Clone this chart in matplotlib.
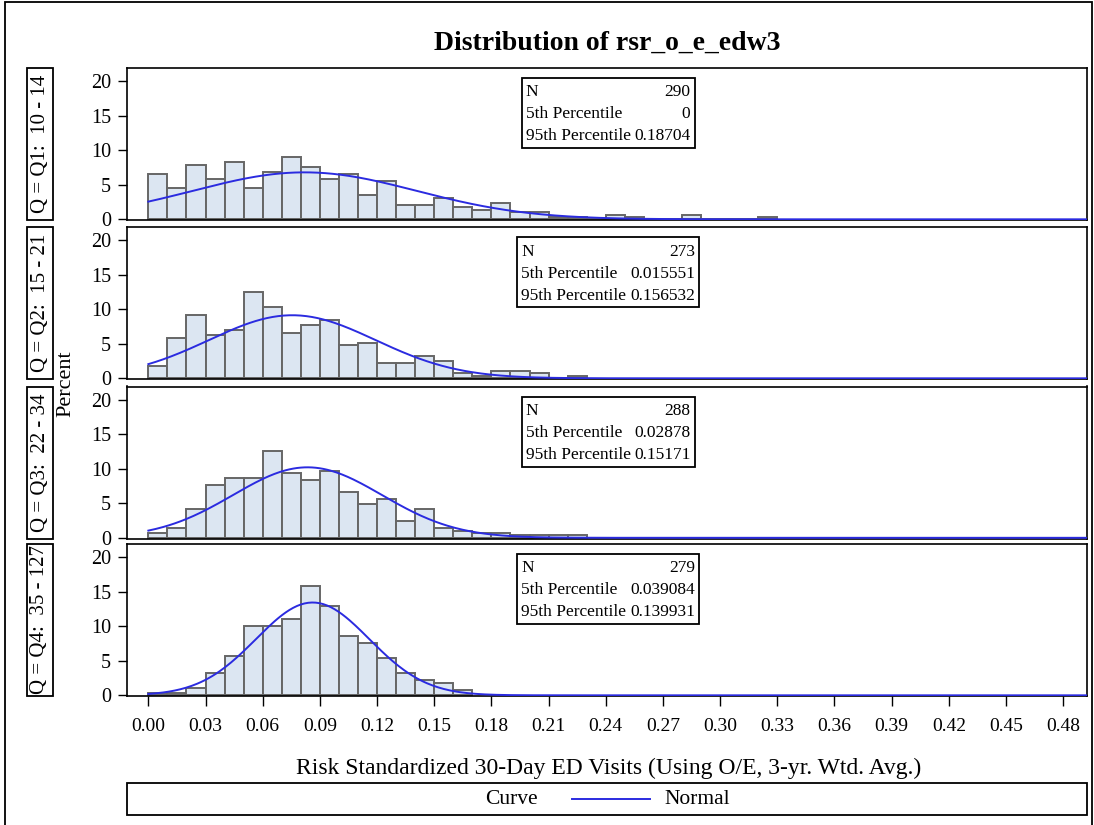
import numpy as np
import matplotlib.pyplot as plt
from matplotlib.patches import Rectangle
from matplotlib.lines import Line2D

plt.rcParams['font.family'] = ['Liberation Serif', 'DejaVu Serif']

W, H = 1094, 825

# histogram data: counts per 0.01-wide bin starting at 0.00
groups = ['Q = Q1:  10 - 14', 'Q = Q2:  15 - 21', 'Q = Q3:  22 - 34', 'Q = Q4:  35 - 127']
n_obs = [290, 273, 288, 279]
p5 = ['0', '0.015551', '0.02878', '0.039084']
p95 = ['0.18704', '0.156532', '0.15171', '0.139931']

counts_q1 = [19, 13, 23, 17, 24, 13, 20, 26, 22, 17, 19, 10, 16, 6, 6, 9, 5, 4, 7, 3, 3,
             1, 1, 0, 2, 1, 0, 0, 2, 0, 0, 0, 1]
counts_q2 = [5, 16, 25, 17, 19, 34, 28, 18, 21, 23, 13, 14, 6, 6, 9, 7, 2, 1, 3, 3, 2, 0, 1]
counts_q3 = [2, 4, 12, 22, 25, 25, 36, 27, 24, 28, 19, 14, 16, 7, 12, 4, 3, 2, 2, 1, 1, 1, 1]
counts_q4 = [1, 1, 3, 9, 16, 28, 28, 31, 44, 36, 24, 21, 15, 9, 6, 5, 2]
all_counts = [counts_q1, counts_q2, counts_q3, counts_q4]

# fitted normal curve parameters
curve_mean = [0.082, 0.0755, 0.0835, 0.0862]
curve_sd = [0.0587, 0.0437, 0.0391, 0.0297]

bin_width = 0.01
xticks = [0.00, 0.03, 0.06, 0.09, 0.12, 0.15, 0.18, 0.21, 0.24, 0.27, 0.30, 0.33,
          0.36, 0.39, 0.42, 0.45, 0.48]
yticks = [0, 5, 10, 15, 20]
xlim = (-0.0112, 0.4925)
ylim = (-0.1, 21.9)

bar_face = '#DCE6F2'
bar_edge = '#666666'
curve_color = '#2B2BE0'


def fx(px):
    return px / W


def fy(py):
    return 1 - py / H


fig = plt.figure(figsize=(W / 100, H / 100), dpi=100)

ax_left, ax_right = 127, 1087
panel_tops = [68, 227, 386.5, 544]
panel_h = 152

for i, counts in enumerate(all_counts):
    top = panel_tops[i]
    ax = fig.add_axes([fx(ax_left), fy(top + panel_h), fx(ax_right - ax_left), panel_h / H])
    edges = np.arange(len(counts)) * bin_width
    pct = 100.0 * np.array(counts) / n_obs[i]
    ax.bar(edges, pct, width=bin_width, align='edge', color=bar_face,
           edgecolor=bar_edge, linewidth=1.4, zorder=2)

    xs = np.linspace(0, xlim[1], 500)
    m, s = curve_mean[i], curve_sd[i]
    ys = 100 * bin_width * np.exp(-0.5 * ((xs - m) / s) ** 2) / (s * np.sqrt(2 * np.pi))
    ax.plot(xs, ys, color=curve_color, lw=1.4, zorder=3)

    ax.set_xlim(*xlim)
    ax.set_ylim(*ylim)
    ax.set_yticks(yticks)
    ax.tick_params(axis='y', direction='out', length=6.5, width=1.0, labelsize=14.5, pad=5)
    for sp in ax.spines.values():
        sp.set_linewidth(1.2)
    if i < 3:
        ax.set_xticks([])
    else:
        ax.set_xticks(xticks)
        ax.set_xticklabels(['%.2f' % t for t in xticks])
        ax.tick_params(axis='x', direction='out', length=7.5, width=1.0, labelsize=14, pad=8)

    # inset statistics box
    half = 86.5 if i in (0, 2) else 91
    bl, br = 608 - half, 608 + half
    bt = top + 10
    fig.add_artist(Rectangle((fx(bl), fy(bt + 70)), fx(br - bl), 70 / H,
                             transform=fig.transFigure, fill=False, lw=1.3, ec='black'))
    rows = [('N', str(n_obs[i])), ('5th Percentile', p5[i]), ('95th Percentile', p95[i])]
    for k, (lab, val) in enumerate(rows):
        yy = fy(bt + 14.5 + 22 * k)
        fig.text(fx(bl + 4), yy, lab, ha='left', va='center', fontsize=12.5)
        fig.text(fx(br - 4), yy, val, ha='right', va='center', fontsize=12.5)

    # row header box
    fig.add_artist(Rectangle((fx(27), fy(top + panel_h)), fx(26), panel_h / H,
                             transform=fig.transFigure, fill=False, lw=1.3, ec='black'))
    fig.text(fx(40), fy(top + panel_h / 2), groups[i], rotation=90, ha='center',
             va='center', fontsize=15)

fig.text(fx(607), fy(43), 'Distribution of rsr_o_e_edw3', ha='center', va='center',
         fontsize=20, fontweight='bold')
fig.text(fx(66), fy(384), 'Percent', rotation=90, ha='center', va='center', fontsize=16)
fig.text(fx(609), fy(768), 'Risk Standardized 30-Day ED Visits (Using O/E, 3-yr. Wtd. Avg.)',
         ha='center', va='center', fontsize=17)

# legend strip
fig.add_artist(Rectangle((fx(127), fy(815)), fx(960), 32 / H, transform=fig.transFigure,
                         fill=False, lw=1.3, ec='black'))
fig.text(fx(511), fy(799), 'Curve', ha='center', va='center', fontsize=15.5)
fig.add_artist(Line2D([fx(572), fx(650)], [fy(799), fy(799)], transform=fig.transFigure,
                      color=curve_color, lw=1.4))
fig.text(fx(664), fy(799), 'Normal', ha='left', va='center', fontsize=15.5)

# outer border
fig.add_artist(Rectangle((fx(5), fy(840)), fx(1087), 838 / H, transform=fig.transFigure,
                         fill=False, lw=1.3, ec='black'))

fig.savefig('out.png', dpi=100)
